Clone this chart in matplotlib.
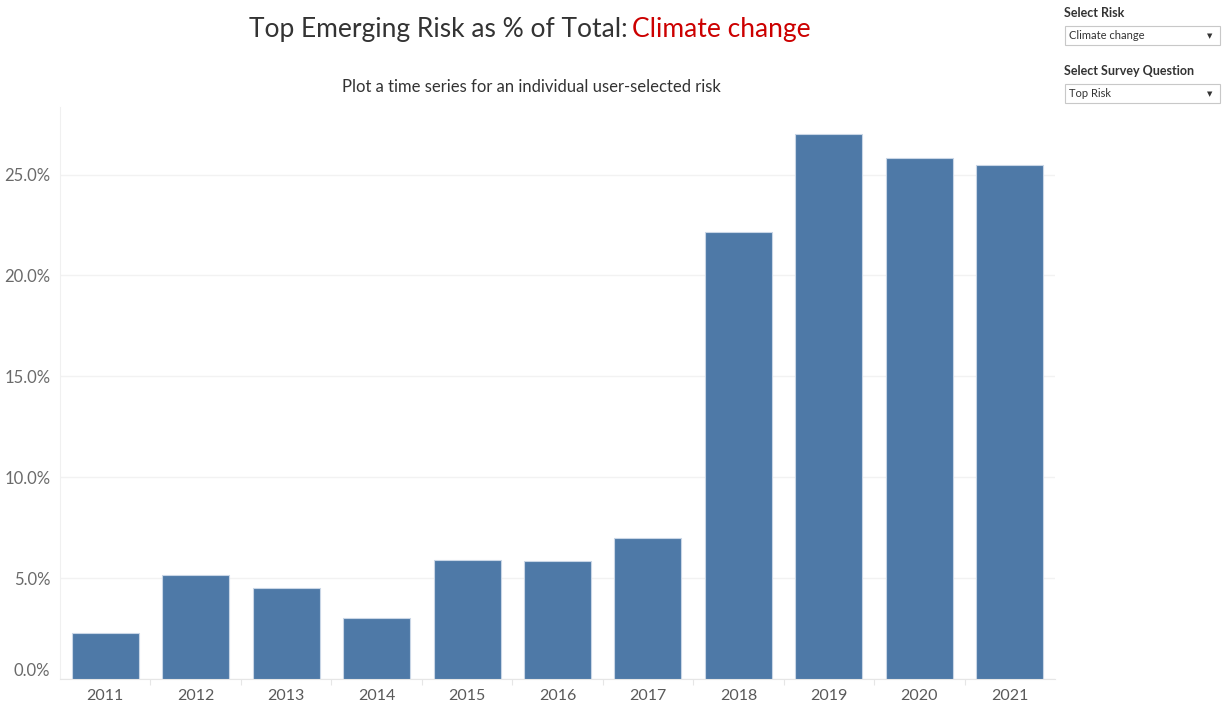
import matplotlib
matplotlib.use("Agg")
import matplotlib.pyplot as plt
from matplotlib.patches import Rectangle
from matplotlib.ticker import FuncFormatter, FixedLocator

years = ["2011", "2012", "2013", "2014", "2015", "2016", "2017", "2018", "2019", "2020", "2021"]
share_pct = [2.3, 5.15, 4.5, 3.03, 5.9, 5.85, 7.0, 22.17, 27.0, 25.8, 25.5]
y_ticks = [0, 5, 10, 15, 20, 25]

W, H = 1225, 708
fig = plt.figure(figsize=(W / 100, H / 100), dpi=100)
fig.patch.set_facecolor("white")
FONT = "Lato"

ax = fig.add_axes([60 / W, 1 - 679 / H, (1055 - 60) / W, (679 - 107) / H])
x = list(range(len(years)))
ax.bar(x, share_pct, width=0.74, color="#4e79a7", edgecolor="#c9d6e6", linewidth=0.8, zorder=3)
ax.set_xlim(-0.5, len(years) - 0.5)
ax.set_ylim(0, 28.35)
ax.set_yticks(y_ticks)
ax.yaxis.set_major_formatter(FuncFormatter(lambda v, p: f"{v:.1f}%"))
ax.set_xticks(x)
ax.set_xticklabels(years)
ax.xaxis.set_minor_locator(FixedLocator([i + 0.5 for i in range(len(years) - 1)]))
ax.tick_params(axis="x", which="major", length=0, pad=7, labelsize=11.5, labelcolor="#5a5a5a")
ax.tick_params(axis="x", which="minor", length=4, color="#e6e6e6", width=0.8)
ax.tick_params(axis="y", length=0, pad=7, labelsize=12, labelcolor="#6a6a6a")
for lab in ax.get_xticklabels() + ax.get_yticklabels():
    lab.set_fontfamily(FONT)
# shift the 0.0% label up like Tableau
ax.get_yticklabels()[0].set_va("bottom")
ax.grid(axis="y", color="#f2f2f2", linewidth=1, zorder=0)
for s in ["top", "right"]:
    ax.spines[s].set_visible(False)
ax.spines["left"].set_color("#f0f0f0")
ax.spines["bottom"].set_color("#e6e6e6")

# Title (two colours)
fig.text(628 / W, 1 - 30 / H, "Top Emerging Risk as % of Total:", ha="right", va="center",
         fontsize=19, color="#333333", family=FONT)
fig.text(632 / W, 1 - 30 / H, "Climate change", ha="left", va="center",
         fontsize=19, color="#cc0000", family=FONT)
fig.text(531 / W, 1 - 87 / H, "Plot a time series for an individual user-selected risk",
         ha="center", va="center", fontsize=12, color="#333333", family=FONT)

# Filter controls
def control(label, value, y_label, y_box):
    fig.text(1064 / W, 1 - y_label / H, label, ha="left", va="center", fontsize=9,
             color="#333333", family=FONT, fontweight="bold")
    fig.patches.append(Rectangle((1065 / W, 1 - (y_box + 19) / H), 155 / W, 19 / H,
                                 transform=fig.transFigure, facecolor="white",
                                 edgecolor="#c8c8c8", linewidth=0.8))
    fig.text(1069 / W, 1 - (y_box + 9.5) / H, value, ha="left", va="center", fontsize=8,
             color="#333333", family=FONT)
    fig.text(1210 / W, 1 - (y_box + 10) / H, "▼", ha="center", va="center", fontsize=5,
             color="#333333", family="DejaVu Sans")

control("Select Risk", "Climate change", 13, 26)
control("Select Survey Question", "Top Risk", 71, 84)

fig.savefig("out.png", dpi=100, facecolor="white")
